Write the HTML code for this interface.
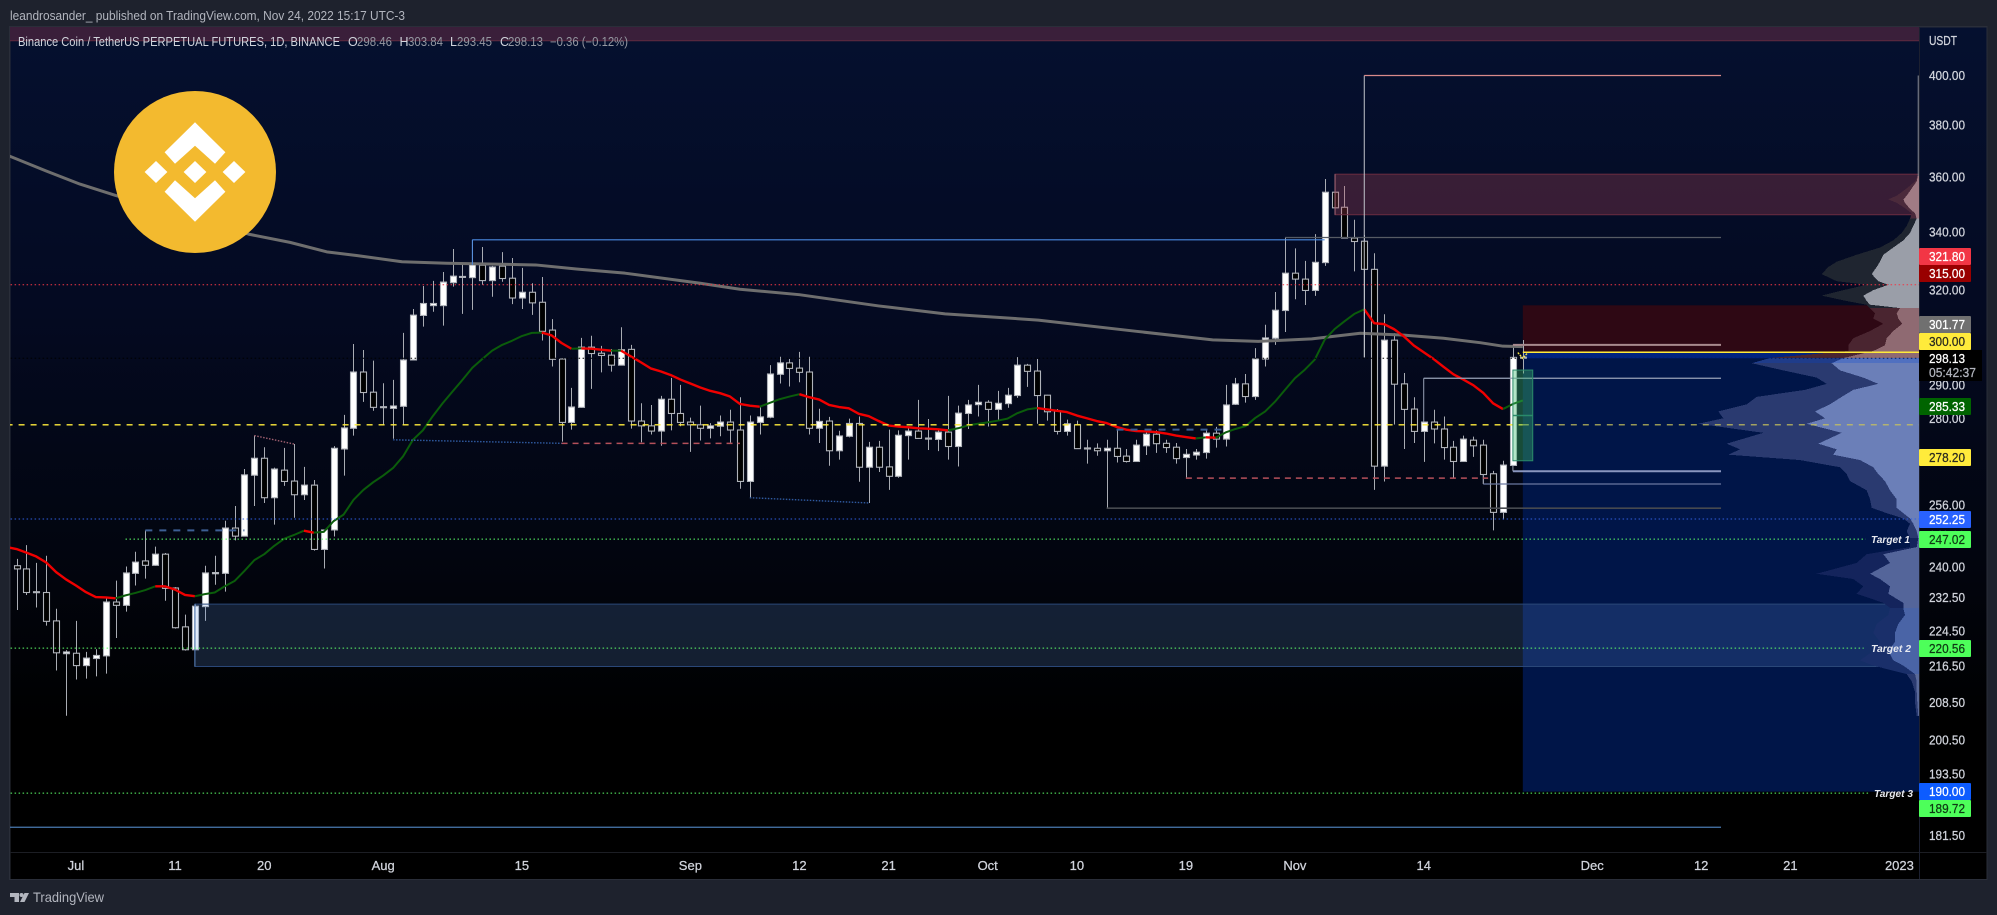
<!DOCTYPE html>
<html lang="en">
<head>
<meta charset="utf-8">
<title>Binance Coin chart</title>
<style>
html,body{margin:0;padding:0;background:#1e222d;width:1997px;height:915px;overflow:hidden}
svg{display:block}
text{font-family:"Liberation Sans",sans-serif}
#priceAxis text,#timeAxis text{stroke:#d1d4dc;stroke-width:.25}
</style>
</head>
<body>
<svg id="chart" xmlns="http://www.w3.org/2000/svg" width="1997" height="915" viewBox="0 0 1997 915">
  <defs>
    <linearGradient id="bgGrad" x1="0" y1="0" x2="0" y2="1">
      <stop offset="0" stop-color="#05102f"/>
      <stop offset="0.32" stop-color="#040a22"/>
      <stop offset="0.62" stop-color="#02050f"/>
      <stop offset="0.82" stop-color="#000000"/>
      <stop offset="1" stop-color="#000000"/>
    </linearGradient>
    <clipPath id="plotClip"><rect x="10" y="27" width="1909" height="825"/></clipPath>
  </defs>

  <rect x="0" y="0" width="1997" height="915" fill="#1e222d"/>
  <text x="10" y="20" font-size="13" fill="#b2b5be" textLength="395" lengthAdjust="spacingAndGlyphs">leandrosander_ published on TradingView.com, Nov 24, 2022 15:17 UTC-3</text>
  <rect x="9" y="26" width="1978.5" height="854" fill="#2a2e39"/>
  <rect x="10.5" y="27.5" width="1976" height="851.5" fill="url(#bgGrad)"/>

  <g id="plot" clip-path="url(#plotClip)"></g>

  <line x1="10" y1="852.5" x2="1987" y2="852.5" stroke="#1c1e24"/>
  <line x1="1919.5" y1="27" x2="1919.5" y2="879" stroke="#1c2030"/>
  <g id="priceAxis"></g>
  <g id="timeAxis"></g>

  <g font-size="12.5">
    <text x="18" y="46" fill="#d1d4dc" textLength="322" lengthAdjust="spacingAndGlyphs">Binance Coin / TetherUS PERPETUAL FUTURES, 1D, BINANCE</text>
    <text x="348" y="46" fill="#d1d4dc">O</text>
    <text x="357" y="46" fill="#9598a1" textLength="35" lengthAdjust="spacingAndGlyphs">298.46</text>
    <text x="399.5" y="46" fill="#d1d4dc">H</text>
    <text x="408" y="46" fill="#9598a1" textLength="35" lengthAdjust="spacingAndGlyphs">303.84</text>
    <text x="450" y="46" fill="#d1d4dc">L</text>
    <text x="457" y="46" fill="#9598a1" textLength="35" lengthAdjust="spacingAndGlyphs">293.45</text>
    <text x="500" y="46" fill="#d1d4dc">C</text>
    <text x="508" y="46" fill="#9598a1" textLength="35" lengthAdjust="spacingAndGlyphs">298.13</text>
    <text x="550" y="46" fill="#9598a1" textLength="78" lengthAdjust="spacingAndGlyphs">−0.36 (−0.12%)</text>
  </g>

  <g>
    <circle cx="195" cy="172" r="81" fill="#f3ba2f"/>
    <path fill="#ffffff" d="M195 122.3L225.4 152.3L215 163.7L195 145.7L175 163.7L164.6 152.3Z M195 221.7L225.4 191.7L215 180.3L195 198.3L175 180.3L164.6 191.7Z M195 161L206.4 172L195 183L183.6 172Z M156 161L167.4 172L156 183L144.6 172Z M234 161L245.4 172L234 183L222.6 172Z"/>
  </g>

  <g font-size="10.5" font-weight="bold" font-style="italic" fill="#e8eaf0">
    <text x="1871" y="543" textLength="39" lengthAdjust="spacingAndGlyphs">Target 1</text>
    <text x="1871" y="652" textLength="40" lengthAdjust="spacingAndGlyphs">Target 2</text>
    <text x="1874" y="797" textLength="39" lengthAdjust="spacingAndGlyphs">Target 3</text>
  </g>

  <g id="priceTags" font-size="12.5">
    <g><rect x="1919" y="248" width="52" height="17" rx="1" fill="#f23645"/><text x="1929" y="261" fill="#ffffff" textLength="36" lengthAdjust="spacingAndGlyphs">321.80</text></g>
    <g><rect x="1919" y="265" width="52" height="17" rx="1" fill="#990000"/><text x="1929" y="278" fill="#ffffff" textLength="36" lengthAdjust="spacingAndGlyphs">315.00</text></g>
    <g><rect x="1919" y="316" width="52" height="17" rx="1" fill="#707070"/><text x="1929" y="329" fill="#ffffff" textLength="36" lengthAdjust="spacingAndGlyphs">301.77</text></g>
    <g><rect x="1919" y="333" width="52" height="17" rx="1" fill="#ffeb3b"/><text x="1929" y="346" fill="#2a2a20" textLength="36" lengthAdjust="spacingAndGlyphs">300.00</text></g>
    <g><rect x="1919" y="350" width="63" height="31" fill="#000000"/><text x="1929" y="363" fill="#ffffff" textLength="36" lengthAdjust="spacingAndGlyphs">298.13</text><text x="1929" y="377" fill="#b2b5be" textLength="47" lengthAdjust="spacingAndGlyphs">05:42:37</text></g>
    <g><rect x="1919" y="398" width="52" height="17" rx="1" fill="#006400"/><text x="1929" y="411" fill="#ffffff" textLength="36" lengthAdjust="spacingAndGlyphs">285.33</text></g>
    <g><rect x="1919" y="449" width="52" height="17" rx="1" fill="#ffeb3b"/><text x="1929" y="462" fill="#2a2a20" textLength="36" lengthAdjust="spacingAndGlyphs">278.20</text></g>
    <g><rect x="1919" y="511" width="52" height="17" rx="1" fill="#2962ff"/><text x="1929" y="524" fill="#ffffff" textLength="36" lengthAdjust="spacingAndGlyphs">252.25</text></g>
    <g><rect x="1919" y="531" width="52" height="17" rx="1" fill="#4dff5a"/><text x="1929" y="544" fill="#0f3a14" textLength="36" lengthAdjust="spacingAndGlyphs">247.02</text></g>
    <g><rect x="1919" y="640" width="52" height="17" rx="1" fill="#4dff5a"/><text x="1929" y="653" fill="#0f3a14" textLength="36" lengthAdjust="spacingAndGlyphs">220.56</text></g>
    <g><rect x="1919" y="783" width="52" height="17" rx="1" fill="#0d5cff"/><text x="1929" y="796" fill="#ffffff" textLength="36" lengthAdjust="spacingAndGlyphs">190.00</text></g>
    <g><rect x="1919" y="800" width="52" height="17" rx="1" fill="#4dff5a"/><text x="1929" y="813" fill="#0f3a14" textLength="36" lengthAdjust="spacingAndGlyphs">189.72</text></g>
  </g>

  <g>
    <path fill="#b2b5be" d="M10 893H19V902H14.5V897H10Z M20 902L24.5 893H29L24.5 902Z"/>
    <circle cx="21.5" cy="895" r="2" fill="#b2b5be"/>
    <text x="33" y="902" font-size="14" fill="#b2b5be" textLength="71" lengthAdjust="spacingAndGlyphs">TradingView</text>
  </g>
</svg>

<script>
var candleOpen = [
240.3,239.5,233.7,233.7,226.9,219.3,219.4,216.6,218.2,218.8,
231.4,230.6,238.4,241.5,240.4,243.2,234.8,225.5,220.2,230.3,
238.3,238.4,249.9,247.8,264.0,268.7,257.9,265.4,262.4,258.7,
261.3,244.4,249.4,271.3,277.2,293.9,287.8,283.2,283.0,283.6,
297.6,311.7,314.9,314.9,322.5,324.3,324.2,328.4,323.2,328.1,
324.0,317.4,319.3,316.0,307.0,297.9,278.9,283.3,301.6,299.7,
299.1,296.0,300.9,279.3,277.9,276.4,285.7,281.5,279.0,278.2,
277.2,277.8,279.0,276.7,262.3,278.9,280.4,293.2,296.7,295.1,
293.9,277.2,279.3,270.8,274.9,278.6,266.2,271.8,266.3,263.7,
275.1,276.4,274.1,274.0,276.1,272.0,281.5,284.1,284.8,282.7,
284.4,286.8,296.0,294.2,286.9,282.2,276.3,278.2,271.3,271.5,
270.8,271.5,269.3,267.8,272.2,275.5,272.9,271.8,268.9,269.6,
270.3,275.8,274.1,284.2,290.3,286.5,297.9,304.4,313.3,325.7,
323.7,319.9,329.3,354.3,348.8,337.8,336.7,327.0,266.5,303.8,
290.3,282.8,276.3,279.0,277.0,271.8,267.8,273.8,272.4,264.4,
254.0,266.7,298.46];
var candleHigh = [
242.0,245.5,241.0,242.8,229.8,220.1,226.9,219.7,220.3,232.3,
236.6,240.1,243.8,249.3,245.1,243.5,235.0,228.4,231.0,240.3,
242.8,251.8,255.7,265.7,275.1,271.8,266.1,271.6,272.7,266.3,
262.7,249.5,272.1,281.1,302.6,300.7,297.4,290.5,291.5,306.1,
313.8,321.4,323.1,326.1,334.0,329.2,337.2,334.7,328.2,332.9,
330.9,327.5,322.3,324.4,310.5,298.2,289.1,304.5,305.2,302.0,
301.0,307.9,302.3,284.5,284.0,286.7,292.1,290.0,280.3,283.8,
278.7,280.9,282.6,286.3,280.9,283.3,296.0,298.6,297.9,300.1,
298.6,282.9,280.5,276.5,280.0,280.6,273.3,273.6,276.8,276.6,
277.6,285.5,279.9,276.6,286.7,283.8,285.5,290.0,285.4,288.2,
289.1,298.5,296.4,297.9,287.0,282.8,279.7,279.4,273.9,272.9,
273.9,276.8,271.3,273.9,276.8,276.6,273.9,273.0,271.3,271.3,
276.8,277.6,290.0,292.1,293.3,301.3,308.7,319.4,337.9,334.2,
329.9,339.2,359.2,354.4,356.6,344.3,338.9,332.5,312.1,306.0,
293.6,286.3,279.1,282.6,280.6,273.6,275.1,274.8,273.9,265.2,
268.0,302.3,303.84];
var candleLow = [
229.5,233.1,230.1,225.8,215.5,205.6,213.5,213.7,214.2,214.8,
222.9,229.1,235.4,237.1,240.3,231.7,225.1,220.0,220.1,226.9,
235.6,233.9,246.7,247.7,255.7,256.5,250.8,261.1,252.6,257.3,
244.1,239.6,247.7,263.9,275.1,284.9,282.3,278.0,274.2,278.3,
297.5,308.1,312.9,308.4,321.2,312.2,313.5,321.8,317.8,322.8,
315.4,313.8,311.9,303.7,295.6,273.4,276.8,283.2,288.8,293.8,
294.0,295.9,277.1,273.2,275.4,272.2,276.6,277.8,270.5,273.7,
274.3,274.9,273.1,260.3,257.8,275.4,280.1,290.4,289.5,290.8,
275.4,273.0,266.6,268.3,274.6,262.2,256.5,264.9,260.0,263.3,
268.3,274.2,271.0,270.7,268.3,266.4,277.0,280.6,277.7,279.7,
283.2,286.1,289.4,278.5,279.4,275.4,275.1,271.3,267.2,269.4,
255.3,267.5,267.5,267.7,269.6,270.2,270.2,267.2,263.4,268.3,
268.6,271.7,272.0,284.0,284.7,285.5,295.6,302.3,306.4,317.0,
315.1,318.1,328.2,348.5,337.7,326.3,298.4,260.0,262.3,278.3,
271.3,273.0,267.7,272.9,268.3,263.2,267.7,269.1,261.6,249.3,
252.1,266.6,293.45];
var candleClose = [
239.5,233.7,233.9,226.8,219.5,219.7,216.6,218.3,218.9,231.4,
230.6,238.5,241.2,240.4,243.2,234.7,225.3,220.2,230.4,238.5,
238.6,249.9,247.8,264.1,268.7,257.9,265.7,262.3,258.7,261.3,
244.4,249.4,271.5,277.3,293.9,287.7,283.3,283.5,283.7,297.6,
311.8,315.6,315.6,322.7,324.7,324.6,328.5,323.2,327.8,323.9,
317.4,319.3,315.8,306.6,297.8,278.9,283.4,301.6,299.6,299.0,
296.0,300.8,279.3,277.9,276.4,285.7,281.5,278.9,278.2,277.2,
277.9,279.0,276.7,262.3,279.0,280.5,293.3,296.7,295.0,293.8,
277.2,279.2,270.8,275.0,278.6,266.2,271.8,266.2,263.7,275.2,
276.4,274.3,274.4,276.1,272.0,281.6,284.0,284.8,282.7,284.5,
286.9,296.0,294.1,286.8,282.0,276.3,278.5,271.4,271.6,270.8,
271.5,269.2,267.8,272.4,275.5,272.8,271.7,268.6,269.8,270.4,
275.8,274.1,284.0,290.3,286.5,297.9,304.5,313.4,325.7,323.7,
319.9,329.4,354.3,348.6,337.8,336.6,327.0,266.5,303.8,290.2,
282.7,276.3,279.0,277.0,271.7,267.8,274.1,272.2,264.2,254.0,
266.8,298.4,298.13];

var trendBeforeChart = 245.0;
var trendValues = [
244.5,243.6,242.6,241.1,238.7,236.9,235.4,233.8,232.6,232.5,
232.3,233.0,233.6,234.3,235.2,235.2,234.4,233.1,232.8,233.3,
233.7,235.2,236.5,239.0,241.7,243.2,245.3,247.1,248.1,249.2,
248.7,248.9,251.7,253.4,257.3,260.0,262.1,263.9,266.0,269.2,
273.9,276.6,280.7,284.5,288.0,291.5,295.2,297.9,300.5,302.3,
303.6,305.1,306.1,306.2,305.3,302.9,301.1,301.2,301.1,300.8,
300.5,300.5,298.7,296.9,295.0,294.1,293.0,291.6,290.4,289.2,
288.2,287.5,286.5,284.3,283.8,283.5,284.6,285.7,286.5,287.2,
286.3,285.6,284.0,283.4,283.0,281.4,280.7,279.3,278.0,277.7,
277.5,277.2,277.1,276.9,276.6,277.2,278.0,278.5,278.9,279.4,
280.0,281.6,282.7,283.1,282.7,282.3,281.9,280.9,280.1,279.3,
278.7,277.6,276.8,276.4,276.3,276.1,275.7,275.1,274.7,274.3,
274.6,274.5,276.0,277.0,277.8,280.2,282.1,285.0,288.5,292.0,
294.6,297.7,303.9,307.3,309.8,312.2,313.7,309.2,308.9,307.3,
305.0,302.1,300.0,297.9,295.5,293.2,291.6,289.9,287.6,284.5,
282.8,284.3,285.33];
var trendFlipDays = [10,14,18,29,30,53,56,57,60,61,75,79,94,103,119,120,121,136,150];

var slowMaDays = [-1,3,6.4,10,23.4,27.6,31.3,34.4,38.9,43.4,52.4,56.5,61.4,69,73,79,87,93.7,103.1,113,120.7,125.3,130.7,135.6,140,144,147.7,150,152];
var slowMaValues = [368.3,362.2,357.3,353.1,339.2,336.3,333.0,331.7,329.6,329.1,328.5,327.1,325.7,322.3,320.3,318.5,314.8,312.2,310.2,306.6,303.9,303.4,304.2,306.0,305.4,304.4,303.0,301.9,301.77];

var profilePrices = [360.3,358.3,355.7,353.0,351.7,350.4,348.5,346.6,344.7,342.1,339.6,337.0,334.5,332.0,329.6,327.8,325.4,323.0,321.8,320.0,318.2,316.4,315.2,314.1,312.4,310.7,309.0,306.7,304.4,302.2,300.4,298.2,296.6,294.4,292.2,290.3,288.5,286.4,284.2,282.1,280.1,278.5,275.9,272.8,271.2,269.7,268.2,266.2,264.3,262.4,259.9,257.5,255.2,253.8,252.4,251,249.1,247.3,245,243.2,241,238.3,237,235.2,233.4,231.2,230,228.3,226.2,224.1,222,219.9,217.8,216.6,214.7,213.1,210.8,208.5,205.5];
var profileTotal = [1.3,4,12.3,22.3,30.7,22.3,14,7.3,9,12.3,17.3,25.7,39,62.3,82.3,90.7,97.3,82.3,52.3,75.7,97.3,72.3,52.3,49,44,45.7,35.7,49,65.7,70.7,70.7,149,167.3,135.7,102.3,92.3,114,162.3,172.3,200.7,195.7,220.7,155.7,192.3,179,190.7,119,79,72.3,69,52.3,49,47.3,32.3,15.7,9,12.3,9,9,52.3,62.3,102.3,65.7,55.7,62.3,35.7,29,30.7,42.3,45.7,39,45.7,59,45.7,12.3,7.3,4,4,2.3];
var profileUp = [1.3,2.3,7.3,12.3,15.7,14,9.7,4,2.3,5.7,9,15.7,25.7,35.7,39,42.3,47.3,40.7,30.7,45.7,55.7,52.3,49,19,22.3,20.7,16.7,25.7,32.3,34,45.7,75.7,87.3,79,55.7,40.7,65.7,77.3,89,104,94,112.3,77.3,100.7,82.3,85.7,59,45.7,40.7,34,29,22.3,22.3,15.7,9,5.7,2.3,0.7,2.3,35.7,29,49,39,29,30.7,15.7,15.7,14,20.7,24,24,30.7,25.7,15.7,4,2.3,2.3,1.7,0.7];

var priceTicks = [400,380,360,340,320,290,280,256,248,240,232.5,224.5,216.5,208.5,200.5,193.5,181.5];
var priceTickLabels = ["400.00","380.00","360.00","340.00","320.00","290.00","280.00","256.00","248.00","240.00","232.50","224.50","216.50","208.50","200.50","193.50","181.50"];
var timeTickDays = [6,16,25,37,51,68,79,88,98,107,118,129,142,159,170,179,190];
var timeTickLabels = ["Jul","11","20","Aug","15","Sep","12","21","Oct","10","19","Nov","14","Dec","12","21","2023"];

var NS = 'http://www.w3.org/2000/svg';
var plot = document.getElementById('plot');
var xOf = function (day) { return 16.5 + 9.91 * day; };
var yOf = function (price) { return 75.5 + 962 * Math.log(400 / price); };

function mk(parent, tag, attrs) {
  var el = document.createElementNS(NS, tag);
  for (var k in attrs) { el.setAttribute(k, attrs[k]); }
  parent.appendChild(el);
  return el;
}
function zone(name, d0, d1, pTop, pBot, fill, stroke, sw) {
  var el = mk(plot, 'rect', {x: xOf(d0), y: yOf(pTop), width: xOf(d1) - xOf(d0), height: yOf(pBot) - yOf(pTop), fill: fill, stroke: stroke || 'none', 'stroke-width': sw || 1});
  
  
  return el;
}
function hline(name, price, d0, d1, color, width, dash) {
  var el = mk(plot, 'line', {x1: xOf(d0), x2: xOf(d1), y1: yOf(price), y2: yOf(price), stroke: color, 'stroke-width': width, 'stroke-dasharray': dash || 'none'});
  
  
  return el;
}
function vline(name, day, p0, p1, color, width) {
  var el = mk(plot, 'line', {x1: xOf(day), x2: xOf(day), y1: yOf(p0), y2: yOf(p1), stroke: color, 'stroke-width': width});
  
  
  return el;
}
function sloped(name, d0, p0, d1, p1, color, width, dash) {
  var el = mk(plot, 'line', {x1: xOf(d0), x2: xOf(d1), y1: yOf(p0), y2: yOf(p1), stroke: color, 'stroke-width': width, 'stroke-dasharray': dash || 'none'});
  
  
  return el;
}

/* top band and position boxes */
zone('upper-resistance-band', -1, 193, 440, 414.7, '#3a1f3a', 'none');
hline('upper-resistance-border', 414.7, -1, 193, '#5f2a40', 1);
zone('short-risk-box', 152, 192, 315, 300, '#2e0814', 'none');
zone('target-reward-box', 152, 192, 300, 190, '#001548', 'none');
zone('current-price-band', 152, 192, 300, 298.13, '#00237f', 'none');

/* candles */
for (var c = 0; c < candleOpen.length; c++) {
  var cx = Math.round(xOf(c)) + 0.5;
  var up = candleClose[c] >= candleOpen[c];
  var yTop = yOf(Math.max(candleOpen[c], candleClose[c]));
  var yBot = yOf(Math.min(candleOpen[c], candleClose[c]));
  var g = mk(plot, 'g', {});
  
  
  mk(g, 'line', {x1: cx, x2: cx, y1: yOf(candleHigh[c]), y2: yOf(candleLow[c]), stroke: '#a9acb3', 'stroke-width': 1});
  mk(g, 'rect', {x: cx - 3, y: yTop, width: 6, height: Math.max(yBot - yTop, 1), fill: up ? '#ffffff' : '#000000', stroke: '#b0b3ba', 'stroke-width': 1.1});
}

/* drawn zones above candles */
zone('supply-zone', 133.05, 192, 361, 346.1, 'rgba(180,70,90,0.3)', '#6a2c40');
zone('demand-zone', 18, 192, 230.9, 216.4, 'rgba(98,148,224,0.2)', '#2a4878');
vline('supply-zone-left-edge', 133.05, 361, 346.1, '#a86a78', 1);
vline('demand-zone-left-edge', 18, 230.9, 216.4, '#5a80b8', 1);

/* volume profile */
function profileFill(price, up) {
  if (price > 346.1) return up ? '#a07b84' : '#4b2a3b';
  if (price > 315) return up ? '#9a9ea8' : '#1f2530';
  if (price > 300) return up ? '#8f6a72' : '#4a2530';
  if (price > 298) return up ? '#5070c0' : '#1f3c8a';
  if (price > 248) return up ? '#6b7fb8' : '#2a3a70';
  if (price > 231) return up ? '#54659a' : '#14245c';
  if (price > 216.4) return up ? '#4a64a6' : '#1a2f6a';
  return up ? '#5a6a9a' : '#2a3a70';
}
function profileBand(values, isUp, name) {
  for (var i = 0; i < profilePrices.length - 1; i++) {
    var y0 = yOf(profilePrices[i]), y1 = yOf(profilePrices[i + 1]);
    var pts = '1919,' + y0 + ' ' + (1919 - values[i]) + ',' + y0 + ' ' + (1919 - values[i + 1]) + ',' + y1 + ' 1919,' + y1;
    var row = mk(plot, 'polygon', {points: pts, fill: profileFill(profilePrices[i], isUp), 'shape-rendering': 'crispEdges'});
    
    
  }
}
profileBand(profileTotal, false, 'volume-profile-total-row');
profileBand(profileUp, true, 'volume-profile-up-row');
vline('volume-profile-top-tail', 191.9, 400, 360.3, '#8a8d94', 1);

/* slow moving average */
var slowPts = [];
for (var s = 0; s < slowMaDays.length; s++) {
  slowPts.push(xOf(slowMaDays[s]) + ',' + yOf(slowMaValues[s]));
}
var slowLine = mk(plot, 'polyline', {points: slowPts.join(' '), fill: 'none', stroke: '#6e6e6e', 'stroke-width': 3, 'stroke-linejoin': 'round'});



/* coloured trend moving average */
var flipStart = 0, isGreen = false;
var flips = trendFlipDays.concat([trendValues.length - 1]);
for (var f = 0; f < flips.length; f++) {
  var segPts = [];
  if (flipStart === 0) {
    segPts.push(xOf(-1) + ',' + yOf(trendBeforeChart));
  }
  for (var d = flipStart; d <= flips[f]; d++) {
    segPts.push(xOf(d) + ',' + yOf(trendValues[d]));
  }
  var seg = mk(plot, 'polyline', {points: segPts.join(' '), fill: 'none', stroke: isGreen ? '#0b5c0b' : '#f00000', 'stroke-width': isGreen ? 2 : 2.4, 'stroke-linejoin': 'round'});
  
  
  flipStart = flips[f];
  isGreen = !isGreen;
}

/* horizontal levels */
hline('level-321-80', 321.8, -1, 192, '#f23645', 1, '1.5 2.5');
hline('last-price-line', 298.13, -1, 152, '#000000', 1, '1.5 2.5');
hline('last-price-line-box', 298.13, 152, 192, '#001a5c', 1, '1.5 2.5');
hline('level-278-20', 278.2, -1, 152, '#ffeb3b', 1.4, '6 6');
hline('level-278-20-box', 278.2, 152, 192, '#c9c35a', 1.2, '6 6');
hline('level-252-25', 252.25, -1, 192, '#2f5fe0', 1, '1.5 2.5');
hline('target-1-line', 247.02, 11, 186.6, '#5dff6a', 1, '1.5 2.5');
hline('target-2-line', 220.56, -1, 186.4, '#5dff6a', 1, '1.5 2.5');
hline('target-3-line', 189.72, -1, 187, '#5dff6a', 1, '1.5 2.5');
hline('level-300-line', 300, 152, 192, '#ffeb3b', 1.6);

/* drawn structure lines */
vline('breakout-stem', 136, 400, 298.4, '#c2c5cc', 1);
hline('high-400-line', 400, 136, 172, '#d98a8a', 1.2);
hline('prior-high-line', 337.2, 46, 132, '#4a8ae0', 1.2);
vline('prior-high-stem', 46, 337.2, 328.5, '#4a8ae0', 1);
hline('swing-high-line', 338, 128, 172, '#565b64', 1.2);
hline('swing-mid-line', 292, 142, 172, '#9aa3b8', 1.2);
vline('swing-mid-stem', 142, 292, 279, '#9aa3b8', 1);
hline('entry-line', 265.1, 151, 172, '#8a96c0', 2);
vline('entry-stem', 151, 266.7, 265.1, '#9aa0b0', 1);
hline('swing-low-line', 261.6, 148, 172, '#6a78a0', 1.2);
vline('swing-low-stem', 148, 264.2, 261.6, '#8a90a0', 1);
hline('stop-line', 302.3, 151, 172, '#a88a8e', 2);
hline('range-low-line', 255.1, 110, 172, '#46494f', 1.6);
hline('bottom-support-line', 183.1, -1, 172, '#4a7ab0', 1.2);
hline('equal-lows-dashed-a', 263.2, 118, 148.5, '#b5505a', 1.5, '6 5');
hline('equal-lows-dashed-b', 272.9, 55, 73, '#b5505a', 1.5, '6 5');
hline('equal-highs-dashed-a', 249.3, 13, 23, '#3d5f94', 2, '7 7');
hline('equal-highs-dashed-b', 276.8, 111, 121.75, '#3d5f94', 2, '7 7');
sloped('falling-lows-dotted-a', 38, 273.9, 55, 272.9, '#2f5aa0', 1.4, '1.5 1.5');
sloped('falling-lows-dotted-b', 74, 257.9, 86, 256.5, '#2f5aa0', 1.4, '1.5 1.5');
sloped('falling-highs-dotted', 24, 275.1, 28, 272.7, '#a06070', 1.4, '1.5 1.5');

/* trade box */
zone('long-position-box', 151, 153, 294.5, 268, 'rgba(60,190,110,0.38)', '#2a8a6a');
hline('long-position-entry', 280.9, 151, 153, '#2a8a6a', 1.5);

/* last price marker */
var arrow = mk(plot, 'polyline', {points: (xOf(152) - 5) + ',' + (yOf(299.9)) + ' ' + xOf(152) + ',' + (yOf(298.1)) + ' ' + (xOf(152) + 5) + ',' + (yOf(299.9)), fill: 'none', stroke: '#ffeb3b', 'stroke-width': 1.3, 'stroke-dasharray': '2 1'});



/* price axis ticks */
var priceAxis = document.getElementById('priceAxis');
var usdt = mk(priceAxis, 'text', {x: 1929, y: 45, fill: '#d1d4dc', 'font-size': 12.5, textLength: 28, lengthAdjust: 'spacingAndGlyphs'});
usdt.textContent = 'USDT';


for (var p = 0; p < priceTicks.length; p++) {
  var pl = mk(priceAxis, 'text', {x: 1929, y: yOf(priceTicks[p]) + 4.5, fill: '#d1d4dc', 'font-size': 13, textLength: 36, lengthAdjust: 'spacingAndGlyphs'});
  pl.textContent = priceTickLabels[p];
  
  
}

/* time axis ticks */
var timeAxis = document.getElementById('timeAxis');
for (var t = 0; t < timeTickDays.length; t++) {
  var tl = mk(timeAxis, 'text', {x: xOf(timeTickDays[t]), y: 870, fill: '#d1d4dc', 'font-size': 13, 'text-anchor': 'middle'});
  tl.textContent = timeTickLabels[t];
  
  
}

/* thicken the tag text to match the reference weight */
var tagTexts = document.querySelectorAll('#priceTags text');
for (var q = 0; q < tagTexts.length; q++) {
  tagTexts[q].setAttribute('stroke', tagTexts[q].getAttribute('fill'));
  tagTexts[q].setAttribute('stroke-width', '0.25');
}
</script>
</body>
</html>
